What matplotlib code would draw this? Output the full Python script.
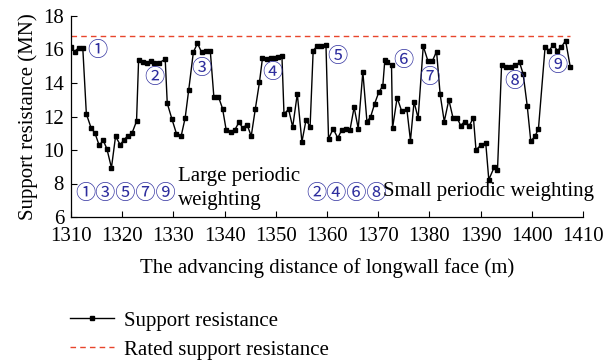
import matplotlib
matplotlib.use("Agg")
import matplotlib.pyplot as plt
from matplotlib.lines import Line2D

distance = [1310.0, 1310.7, 1311.5, 1312.3, 1313.0, 1313.9, 1314.7, 1315.5, 1316.3, 1317.0,
            1317.9, 1318.7, 1319.6, 1320.4, 1321.1, 1321.9, 1322.8, 1323.2, 1324.0, 1324.8,
            1325.6, 1326.3, 1327.2, 1328.4, 1328.8, 1329.7, 1330.6, 1331.5, 1332.3, 1333.0,
            1333.9, 1334.7, 1335.5, 1336.3, 1337.2, 1337.9, 1338.8, 1339.6, 1340.3, 1341.2,
            1342.0, 1342.8, 1343.5, 1344.4, 1345.2, 1346.0, 1346.8, 1347.4, 1348.2, 1349.0,
            1349.8, 1350.5, 1351.2, 1351.6, 1352.5, 1353.3, 1354.2, 1355.1, 1355.9, 1356.7,
            1357.3, 1358.0, 1358.9, 1359.8, 1360.3, 1361.2, 1362.1, 1362.9, 1363.7, 1364.5,
            1365.3, 1366.1, 1367.0, 1367.8, 1368.5, 1369.3, 1370.1, 1370.9, 1371.3, 1371.8,
            1372.6, 1372.8, 1373.7, 1374.6, 1375.6, 1376.3, 1377.0, 1377.8, 1378.8, 1379.7,
            1380.6, 1381.4, 1382.1, 1382.9, 1383.8, 1384.6, 1385.4, 1386.1, 1386.9, 1387.8,
            1388.6, 1389.1, 1390.0, 1391.0, 1391.6, 1392.7, 1393.3, 1394.1, 1395.0, 1395.9,
            1396.7, 1397.6, 1398.3, 1399.1, 1399.8, 1400.6, 1401.3, 1402.6, 1403.4, 1404.2,
            1405.0, 1405.8, 1406.6, 1407.5]

resistance = [16.14, 15.88, 16.10, 16.10, 12.15, 11.34, 10.99, 10.28, 10.57, 10.08,
              8.94, 10.81, 10.32, 10.62, 10.85, 10.99, 11.72, 15.35, 15.27, 15.19,
              15.29, 15.19, 15.19, 15.43, 12.79, 11.86, 10.97, 10.81, 11.92, 13.61,
              15.84, 16.37, 15.84, 15.93, 15.93, 13.18, 13.18, 12.47, 11.21, 11.07,
              11.20, 11.66, 11.33, 11.50, 10.83, 12.45, 14.03, 15.49, 15.45, 15.50,
              15.50, 15.55, 15.60, 12.15, 12.43, 11.37, 13.36, 10.48, 11.78, 11.40,
              15.94, 16.18, 16.18, 16.24, 10.67, 11.27, 10.72, 11.20, 11.27, 11.22,
              12.55, 11.28, 14.66, 11.70, 11.96, 12.76, 13.44, 13.83, 15.39, 15.27,
              15.05, 11.30, 13.12, 12.31, 12.43, 10.56, 12.88, 11.90, 16.20, 15.33,
              15.33, 15.88, 13.32, 11.70, 13.00, 11.93, 11.93, 11.46, 11.70, 11.46,
              11.93, 10.00, 10.28, 10.44, 8.23, 9.00, 8.80, 15.09, 14.95, 14.95,
              15.05, 15.23, 14.56, 12.65, 10.53, 10.81, 11.27, 16.16, 15.94, 16.28,
              15.94, 16.16, 16.53, 14.98]

rated_x = [1310.0, 1407.5]
rated_value = 16.8

circle_labels = ["①", "②", "③", "④", "⑤", "⑥", "⑦", "⑧", "⑨"]
circle_x = [1315.1, 1326.3, 1335.5, 1349.3, 1362.0, 1374.9, 1379.9, 1396.5, 1404.9]
circle_y = [15.94, 14.33, 14.84, 14.62, 15.59, 15.35, 14.30, 14.10, 15.05]

xticks = list(range(1310, 1411, 10))
yticks = list(range(6, 19, 2))

serif = ["Liberation Serif", "DejaVu Serif"]
circ_font = ["Noto Sans CJK SC", "DejaVu Sans"]
blue = "#2e2e9e"
fs = 15

plt.rcParams["font.family"] = serif

fig = plt.figure(figsize=(6.03, 3.61), dpi=100)
ax = fig.add_axes([71 / 603, 1 - 217 / 361, 512 / 603, 201 / 361])

ax.plot(distance, resistance, color="black", lw=1.0, marker="s", ms=2.8,
        label="Support resistance")
ax.plot(rated_x, [rated_value, rated_value], color="#e8452c", lw=1.0,
        ls=(0, (4, 3)), label="Rated support resistance")

ax.set_xlim(1310, 1410)
ax.set_ylim(6, 18)
ax.set_xticks(xticks)
ax.set_yticks(yticks)
ax.tick_params(direction="in", length=4, width=0.8, labelsize=fs)
ax.tick_params(axis="x", pad=7)
ax.tick_params(axis="y", pad=5)
for s in ["top", "right"]:
    ax.spines[s].set_visible(False)
for s in ["left", "bottom"]:
    ax.spines[s].set_linewidth(0.9)

ax.set_xlabel("The advancing distance of longwall face (m)", fontsize=fs, labelpad=9)
ax.set_ylabel("Support resistance (MN)", fontsize=fs, labelpad=4)

for lab, cx, cy in zip(circle_labels, circle_x, circle_y):
    ax.text(cx, cy, lab, family=circ_font, fontsize=14.5, color=blue,
            ha="center", va="center", fontweight="light")

ax.text(1320.7, 7.43, "①③⑤⑦⑨", family=circ_font, fontsize=14.5, color=blue,
        ha="center", va="center", fontweight="light")
ax.text(1330.9, 7.7, "Large periodic\nweighting", fontsize=fs, ha="left",
        va="center", linespacing=1.4)
ax.text(1356.0, 7.43, "②④⑥⑧", family=circ_font, fontsize=14.5, color=blue,
        ha="left", va="center", fontweight="light")
ax.text(1370.9, 7.5, "Small periodic weighting", fontsize=fs, ha="left",
        va="center")

handles = [Line2D([], [], color="black", lw=1.0, marker="s", ms=2.8),
           Line2D([], [], color="#e8452c", lw=1.0, ls=(0, (4, 3)))]
fig.legend(handles, ["Support resistance", "Rated support resistance"],
           loc="upper left", bbox_to_anchor=(70 / 603, 1 - 311 / 361),
           frameon=False, fontsize=fs, handlelength=2.1, handletextpad=0.5,
           labelspacing=0.45, borderpad=0, borderaxespad=0)

fig.savefig("out.png", dpi=100)
